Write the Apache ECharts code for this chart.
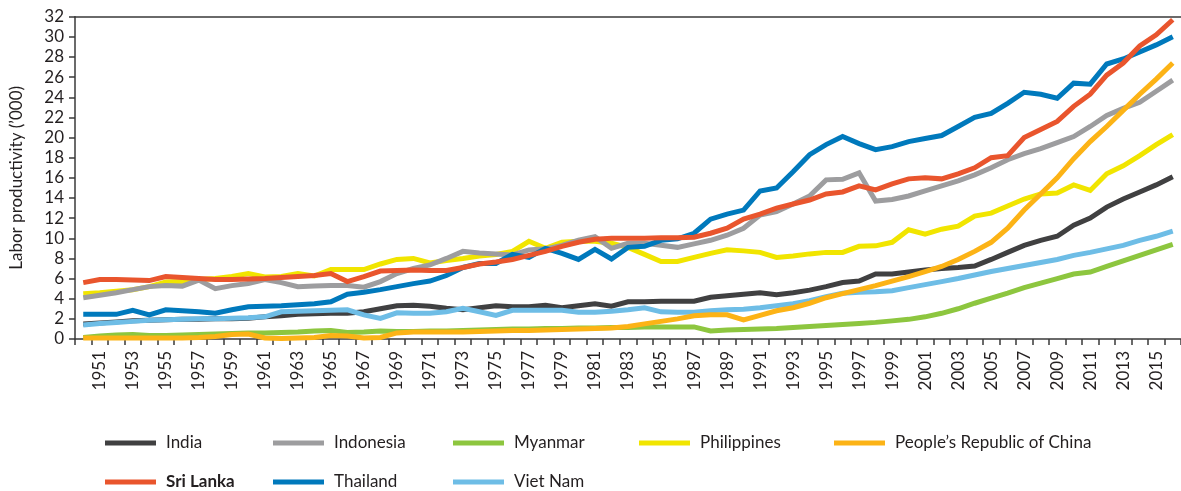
<!DOCTYPE html>
<html>
<head>
<meta charset="utf-8">
<script src="https://cdn.jsdelivr.net/npm/echarts@6/dist/echarts.min.js"></script>
<style>
  html, body { margin: 0; padding: 0; background: #fff; }
  #main { width: 1181px; height: 491px; }
</style>
</head>
<body>
<div id="main"></div>
<script>
var years = ['1950','1951','1952','1953','1954','1955','1956','1957','1958','1959',
  '1960','1961','1962','1963','1964','1965','1966','1967','1968','1969',
  '1970','1971','1972','1973','1974','1975','1976','1977','1978','1979',
  '1980','1981','1982','1983','1984','1985','1986','1987','1988','1989',
  '1990','1991','1992','1993','1994','1995','1996','1997','1998','1999',
  '2000','2001','2002','2003','2004','2005','2006','2007','2008','2009',
  '2010','2011','2012','2013','2014','2015','2016'];

var india = [1.5,1.6,1.7,1.8,1.85,1.9,1.95,1.95,2.0,2.0,
  2.05,2.2,2.3,2.45,2.5,2.55,2.55,2.7,3.0,3.3,
  3.35,3.25,3.05,2.9,3.1,3.3,3.2,3.2,3.35,3.1,
  3.3,3.5,3.25,3.7,3.7,3.75,3.75,3.75,4.15,4.3,
  4.45,4.6,4.4,4.6,4.85,5.2,5.6,5.75,6.45,6.45,
  6.65,6.85,7.0,7.1,7.25,7.9,8.6,9.3,9.8,10.2,
  11.3,12.0,13.1,13.9,14.6,15.3,16.1];

var indonesia = [4.1,4.35,4.6,4.9,5.2,5.3,5.25,5.85,5.0,5.3,
  5.5,5.9,5.6,5.2,5.25,5.3,5.3,5.15,5.7,6.5,
  7.0,7.35,8.0,8.7,8.55,8.45,8.35,8.85,8.95,9.3,
  9.8,10.15,9.0,9.5,9.5,9.3,9.1,9.45,9.8,10.3,
  11.0,12.3,12.65,13.4,14.2,15.8,15.85,16.5,13.7,13.85,
  14.2,14.7,15.2,15.7,16.3,17.0,17.8,18.4,18.9,19.5,
  20.1,21.1,22.2,22.9,23.5,24.6,25.7];

var myanmar = [0.15,0.3,0.4,0.45,0.35,0.35,0.4,0.45,0.5,0.55,
  0.6,0.6,0.65,0.7,0.8,0.85,0.65,0.7,0.8,0.75,
  0.75,0.8,0.8,0.85,0.9,0.95,1.0,1.0,1.05,1.05,
  1.1,1.1,1.15,1.15,1.2,1.2,1.2,1.2,0.8,0.9,
  0.95,1.0,1.05,1.15,1.25,1.35,1.45,1.55,1.65,1.8,
  1.95,2.2,2.55,3.0,3.55,4.05,4.55,5.1,5.55,6.0,
  6.45,6.65,7.2,7.75,8.3,8.85,9.4];

var philippines = [4.5,4.6,4.75,4.9,5.2,5.65,5.7,5.9,6.0,6.2,
  6.5,6.15,6.2,6.5,6.25,6.9,6.9,6.9,7.45,7.9,
  8.0,7.55,7.8,8.0,8.25,8.4,8.7,9.7,9.0,9.6,
  9.7,9.7,9.5,9.1,8.4,7.7,7.7,8.1,8.5,8.85,
  8.75,8.6,8.1,8.25,8.45,8.6,8.6,9.2,9.25,9.6,
  10.85,10.4,10.9,11.2,12.2,12.5,13.2,13.9,14.4,14.5,
  15.3,14.75,16.4,17.2,18.2,19.3,20.3];

var china = [0.1,0.1,0.1,0.1,0.1,0.1,0.1,0.15,0.25,0.45,
  0.5,0.1,0.05,0.1,0.15,0.35,0.3,0.1,0.15,0.6,
  0.7,0.7,0.7,0.7,0.75,0.8,0.85,0.85,0.9,0.95,
  1.0,1.05,1.1,1.25,1.5,1.75,2.0,2.3,2.4,2.4,
  1.9,2.35,2.8,3.1,3.55,4.1,4.5,4.9,5.3,5.75,
  6.2,6.7,7.2,7.9,8.7,9.6,11.0,12.8,14.4,16.0,
  17.9,19.6,21.1,22.7,24.3,25.8,27.4];

var sriLanka = [5.6,5.9,5.9,5.85,5.8,6.2,6.1,6.0,5.9,5.9,
  5.95,6.0,6.1,6.2,6.3,6.5,5.7,6.2,6.75,6.8,
  6.85,6.8,6.8,7.1,7.45,7.65,7.9,8.3,8.7,9.2,
  9.6,9.9,10.0,10.0,10.0,10.05,10.05,10.1,10.5,11.0,
  11.9,12.4,13.0,13.4,13.8,14.4,14.6,15.2,14.8,15.4,
  15.9,16.0,15.9,16.4,17.0,18.0,18.2,20.0,20.8,21.6,
  23.1,24.3,26.2,27.4,29.1,30.2,31.7];

var thailand = [2.45,2.45,2.45,2.85,2.4,2.9,2.8,2.7,2.55,2.9,
  3.2,3.25,3.3,3.4,3.5,3.7,4.45,4.65,4.9,5.2,
  5.5,5.75,6.3,7.1,7.5,7.5,8.4,8.1,9.0,8.5,
  7.9,8.9,7.95,9.1,9.2,9.8,9.95,10.5,11.9,12.4,
  12.8,14.7,15.0,16.6,18.3,19.3,20.1,19.4,18.8,19.1,
  19.6,19.9,20.2,21.1,22.0,22.4,23.4,24.5,24.3,23.9,
  25.4,25.3,27.3,27.8,28.5,29.2,30.0];

var vietNam = [1.4,1.55,1.65,1.75,1.85,1.9,1.95,2.0,2.0,2.05,
  2.1,2.2,2.7,2.75,2.8,2.85,2.9,2.4,2.05,2.6,
  2.55,2.55,2.7,3.05,2.7,2.35,2.85,2.85,2.85,2.85,
  2.65,2.65,2.75,2.9,3.1,2.7,2.65,2.65,2.8,2.9,
  2.95,3.1,3.3,3.5,3.8,4.2,4.55,4.65,4.7,4.8,
  5.1,5.4,5.7,6.0,6.35,6.7,7.0,7.3,7.6,7.9,
  8.3,8.6,8.95,9.3,9.8,10.2,10.7];

var yTicks = { min: 0, max: 32, interval: 2 };

var myChart = echarts.init(document.getElementById('main'));

var font = 'Lato';
var textColor = '#231f20';
var axisColor = '#3a3a3a';
var chinaName = 'People\u2019s Republic of China';

function line(name, data, color) {
  return {
    name: name,
    type: 'line',
    data: data,
    symbol: 'none',
    color: color,
    lineStyle: { width: 5, color: color, join: 'miter' },
    emphasis: { disabled: true },
    animation: false
  };
}

// one legend per entry so the two rows line up in columns like the original
function legendItem(left, top, name, bold) {
  return {
    left: left,
    top: top,
    padding: 0,
    itemWidth: 51,
    itemHeight: 5,
    icon: 'rect',
    selectedMode: false,
    textStyle: {
      fontFamily: font, fontSize: 17, color: textColor, lineHeight: 20,
      fontWeight: bold ? 'bold' : 'normal', padding: [0, 0, 0, 5]
    },
    data: [name]
  };
}

option = {
  backgroundColor: '#fff',
  animation: false,
  grid: { left: 72, right: -8, top: 16.7, bottom: 152 },
  legend: [
    legendItem(105, 433, 'India'),
    legendItem(273, 433, 'Indonesia'),
    legendItem(453, 433, 'Myanmar'),
    legendItem(639, 433, 'Philippines'),
    legendItem(834, 433, chinaName),
    legendItem(105, 472, 'Sri Lanka', true),
    legendItem(273, 472, 'Thailand'),
    legendItem(453, 472, 'Viet Nam')
  ],
  xAxis: [{
    type: 'category',
    data: years,
    boundaryGap: true,
    axisLine: { lineStyle: { color: axisColor, width: 1.5 } },
    axisTick: { show: true, interval: 0, length: 6, lineStyle: { color: axisColor, width: 1.5 } },
    axisLabel: {
      rotate: 90,
      margin: 12,
      interval: function (index) { return index % 2 === 1; },
      fontFamily: font,
      fontSize: 17,
      color: textColor
    },
    splitLine: { show: false }
  }, {
    type: 'category',
    data: years,
    position: 'top',
    axisLine: { show: true, lineStyle: { color: axisColor, width: 1.5 } },
    axisTick: { show: false },
    axisLabel: { show: false },
    splitLine: { show: false }
  }],
  yAxis: {
    type: 'value',
    min: yTicks.min,
    max: yTicks.max,
    interval: yTicks.interval,
    name: 'Labor productivity (\u2019000)',
    nameLocation: 'middle',
    nameGap: 50,
    nameTextStyle: { fontFamily: font, fontSize: 17, color: textColor },
    axisLine: { show: true, lineStyle: { color: axisColor, width: 1.5 } },
    axisTick: { show: true, length: 6, lineStyle: { color: axisColor, width: 1.5 } },
    axisLabel: { margin: 11, fontFamily: font, fontSize: 17, color: textColor },
    splitLine: { show: false }
  },
  series: [
    line('Philippines', philippines, '#f1e500'),
    line('Indonesia', indonesia, '#9d9d9f'),
    line('Myanmar', myanmar, '#8dc63f'),
    line('India', india, '#404041'),
    line('Viet Nam', vietNam, '#6ebde6'),
    line(chinaName, china, '#fcb316'),
    line('Thailand', thailand, '#0079bc'),
    line('Sri Lanka', sriLanka, '#e9552d')
  ]
};

myChart.setOption(option);
</script>
</body>
</html>
